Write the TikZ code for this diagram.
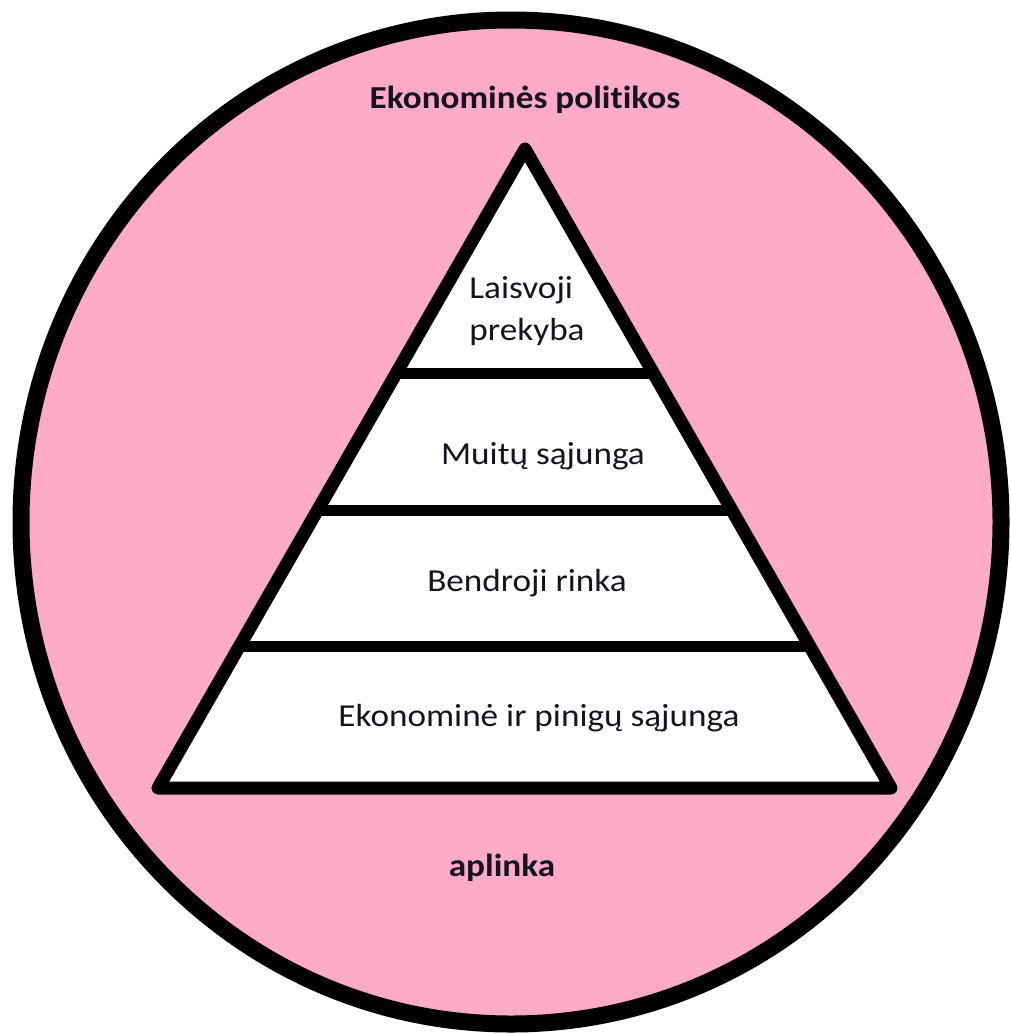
\documentclass[tikz,border=0pt]{standalone}
\usepackage{fontspec}
\setmainfont{Carlito}[FakeStretch=1.1, Ligatures=NoCommon]
\usetikzlibrary{calc}
\definecolor{pinkbg}{HTML}{FFAAC8}
\definecolor{txt}{HTML}{15151F}
\tikzset{
  lbl/.style={font=\fontsize{32}{42}\selectfont, text=txt, inner sep=0pt},
  blbl/.style={lbl, font=\fontsize{32}{42}\selectfont\bfseries},
  edge/.style={line width=13pt, line join=round},
  band/.style={line width=11pt}
}
\begin{document}
\begin{tikzpicture}[x=1pt,y=-1pt]
\useasboundingbox (0,0) rectangle (1010,1034);
% environment ellipse
\draw[line width=17pt, fill=pinkbg] (511,522) ellipse [x radius=490, y radius=502];
% pyramid
\coordinate (apex) at (525,149);
\coordinate (bl) at (158,788);
\coordinate (br) at (891,788);
\draw[edge, fill=white] (apex) -- (br) -- (bl) -- cycle;
\coordinate (l1) at ($(apex)!0.352!(bl)$);
\coordinate (r1) at ($(apex)!0.352!(br)$);
\coordinate (l2) at ($(apex)!0.565!(bl)$);
\coordinate (r2) at ($(apex)!0.565!(br)$);
\coordinate (l3) at ($(apex)!0.779!(bl)$);
\coordinate (r3) at ($(apex)!0.779!(br)$);
\draw[band] (l1) -- (r1);
\draw[band] (l2) -- (r2);
\draw[band] (l3) -- (r3);
% labels
\node[blbl] (title) at (525,100) {Ekonominės politikos};
\node[blbl] (env) at (502,868) {aplinka};
\node[lbl, align=left] (t1) at (527,311) {Laisvoji\\prekyba};
\node[lbl] (t2) at (543,456) {Muitų sąjunga};
\node[lbl] (t3) at (527,583) {Bendroji rinka};
\node[lbl] (t4) at (539,718) {Ekonominė ir pinigų sąjunga};
\end{tikzpicture}
\end{document}
